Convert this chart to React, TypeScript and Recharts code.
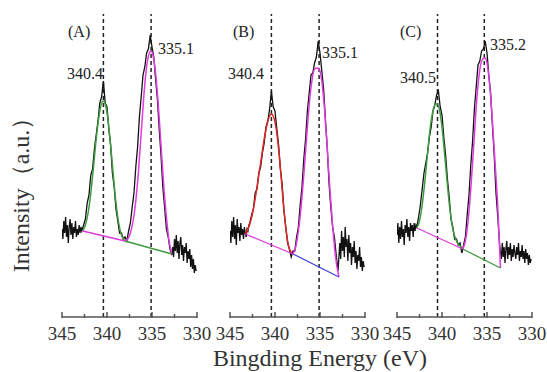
import { LineChart, Line, XAxis, YAxis, ReferenceLine } from 'recharts';

type Pt = [number, number];

const FONT = 'Liberation Serif, DejaVu Serif, Times New Roman, serif';
const FRAME = '#555';
const INK = '#222';
const GREEN = '#3f9a3f';
const MAGENTA = '#e03ae0';
const RED = '#e02525';
const BLUE = '#3848d6';

const TICKS = [345, 342.5, 340, 337.5, 335, 332.5, 330];

// panel (A) – raw spectrum, binding energy (eV) vs counts (a.u.)
const rawA: Pt[] = [
  [345.0, 88], [344.9, 78], [344.8, 96], [344.7, 84], [344.6, 100], [344.5, 80], [344.4, 92], [344.3, 74],
  [344.2, 90], [344.1, 98], [344.0, 82], [343.9, 94], [343.8, 78], [343.7, 90], [343.6, 84], [343.5, 96],
  [343.4, 80], [343.3, 88], [343.2, 82], [343.1, 92], [343.0, 84], [342.9, 90], [342.8, 86],
  [342.6, 92], [342.4, 98], [342.2, 114], [342.0, 122], [341.8, 142], [341.6, 148], [341.4, 168], [341.2, 182],
  [341.0, 196], [340.8, 214], [340.6, 220], [340.4, 236], [340.2, 214], [340.0, 210], [339.8, 188], [339.6, 172],
  [339.4, 144], [339.2, 130], [339.0, 108], [338.8, 96], [338.6, 84], [338.4, 84], [338.2, 78], [338.0, 80],
  [337.8, 76], [337.6, 86], [337.4, 94], [337.2, 110], [337.0, 124], [336.8, 150], [336.6, 170], [336.4, 200],
  [336.2, 220], [336.0, 242], [335.8, 250], [335.6, 264], [335.4, 268], [335.2, 282], [335.0, 270], [334.8, 260],
  [334.6, 238], [334.4, 218], [334.2, 188], [334.0, 162], [333.8, 130], [333.6, 110], [333.4, 88], [333.2, 80],
  [333.0, 68], [332.8, 62],
  [332.7, 70], [332.6, 60], [332.5, 78], [332.4, 66], [332.3, 82], [332.2, 64], [332.1, 76], [332.0, 58],
  [331.9, 74], [331.8, 80], [331.7, 62], [331.6, 72], [331.5, 56], [331.4, 70], [331.3, 64], [331.2, 74],
  [331.1, 54], [331.0, 66], [330.9, 58], [330.8, 68], [330.7, 50], [330.6, 62], [330.5, 48], [330.4, 58],
  [330.3, 44], [330.2, 52], [330.1, 46],
];
const fitA1: Pt[] = [
  [342.7, 86], [342.4, 92], [342.1, 104], [341.8, 124], [341.5, 150], [341.2, 178], [340.9, 200], [340.6, 214],
  [340.4, 216], [340.2, 213], [339.9, 198], [339.6, 172], [339.3, 142], [339.0, 114], [338.7, 94], [338.4, 82], [338.0, 76],
];
const fitA2: Pt[] = [
  [338.0, 76], [337.7, 78], [337.4, 84], [337.1, 96], [336.8, 116], [336.5, 146], [336.2, 184], [335.9, 222],
  [335.6, 250], [335.3, 264], [335.1, 266], [334.9, 262], [334.6, 244], [334.3, 212], [334.0, 172], [333.7, 132],
  [333.4, 100], [333.1, 76], [332.8, 63],
];
const baseA1: Pt[] = [[342.7, 86], [338.0, 76]];
const baseA2: Pt[] = [[338.0, 76], [332.8, 63]];

// panel (B)
const rawB: Pt[] = [
  [345.0, 86], [344.9, 74], [344.8, 96], [344.7, 80], [344.6, 100], [344.5, 78], [344.4, 92], [344.3, 72],
  [344.2, 98], [344.1, 84], [344.0, 90], [343.9, 76], [343.8, 94], [343.7, 82], [343.6, 88], [343.5, 78],
  [343.4, 90], [343.3, 84], [343.2, 80], [343.1, 88], [343.0, 86], [342.9, 92],
  [342.8, 94], [342.6, 102], [342.4, 108], [342.2, 124], [342.0, 128], [341.8, 144], [341.6, 150], [341.4, 164],
  [341.2, 174], [341.0, 190], [340.8, 196], [340.6, 208], [340.4, 226], [340.2, 210], [340.0, 206], [339.8, 188],
  [339.6, 172], [339.4, 148], [339.2, 132], [339.0, 106], [338.8, 90], [338.6, 74], [338.4, 68], [338.2, 60],
  [338.0, 66], [337.8, 66], [337.6, 80], [337.4, 90], [337.2, 112], [337.0, 130], [336.8, 158], [336.6, 178],
  [336.4, 206], [336.2, 224], [336.0, 242], [335.8, 244], [335.6, 254], [335.4, 260], [335.2, 276], [335.0, 264],
  [334.8, 246], [334.6, 228], [334.4, 198], [334.2, 170], [334.0, 134], [333.8, 110], [333.6, 90], [333.4, 80],
  [333.2, 62], [333.0, 46],
  [332.9, 60], [332.8, 74], [332.7, 58], [332.6, 86], [332.5, 66], [332.4, 80], [332.3, 60], [332.2, 90],
  [332.1, 70], [332.0, 78], [331.9, 56], [331.8, 82], [331.7, 64], [331.6, 74], [331.5, 52], [331.4, 70],
  [331.3, 60], [331.2, 76], [331.1, 54], [331.0, 66], [330.9, 48], [330.8, 62], [330.7, 56], [330.6, 70],
  [330.5, 50], [330.4, 60], [330.3, 46], [330.2, 56], [330.1, 50],
];
const fitB1: Pt[] = [
  [343.3, 83], [343.0, 88], [342.7, 96], [342.4, 108], [342.1, 124], [341.8, 142], [341.5, 160], [341.2, 178],
  [340.9, 192], [340.6, 201], [340.4, 203], [340.2, 201], [339.9, 190], [339.6, 168], [339.3, 138], [339.0, 106],
  [338.7, 82], [338.4, 68], [338.0, 63],
];
const fitB2: Pt[] = [
  [338.0, 63], [337.7, 70], [337.4, 86], [337.1, 110], [336.8, 142], [336.5, 178], [336.2, 212], [335.9, 236],
  [335.6, 248], [335.3, 249], [335.1, 248], [334.8, 236], [334.5, 208], [334.2, 170], [333.9, 128], [333.6, 92],
  [333.3, 62], [332.9, 40],
];
const baseB1: Pt[] = [[343.3, 83], [338.0, 63]];
const baseB2: Pt[] = [[338.0, 63], [332.9, 40]];

// panel (C)
const rawC: Pt[] = [
  [345.0, 82], [344.9, 94], [344.8, 74], [344.7, 90], [344.6, 78], [344.5, 96], [344.4, 80], [344.3, 88],
  [344.2, 72], [344.1, 92], [344.0, 84], [343.9, 98], [343.8, 80], [343.7, 90], [343.6, 76], [343.5, 94],
  [343.4, 86], [343.3, 92], [343.2, 80], [343.1, 94], [343.0, 86], [342.9, 92],
  [342.8, 90], [342.6, 100], [342.4, 112], [342.2, 128], [342.0, 144], [341.8, 154], [341.6, 164], [341.4, 180],
  [341.2, 190], [341.0, 206], [340.8, 212], [340.6, 222], [340.4, 226], [340.2, 210], [340.0, 202], [339.8, 180],
  [339.6, 162], [339.4, 138], [339.2, 120], [339.0, 98], [338.8, 90], [338.6, 78], [338.4, 78], [338.2, 72],
  [338.0, 74], [337.8, 64], [337.6, 72], [337.4, 80], [337.2, 102], [337.0, 122], [336.8, 152], [336.6, 176],
  [336.4, 208], [336.2, 230], [336.0, 252], [335.8, 256], [335.6, 266], [335.4, 268], [335.2, 276], [335.0, 264],
  [334.8, 242], [334.6, 224], [334.4, 192], [334.2, 162], [334.0, 124], [333.8, 100], [333.6, 72], [333.4, 58],
  [333.3, 74], [333.2, 60], [333.1, 70], [333.0, 54], [332.9, 68], [332.8, 76], [332.7, 58], [332.6, 70],
  [332.5, 62], [332.4, 74], [332.3, 56], [332.2, 68], [332.1, 60], [332.0, 72], [331.9, 64], [331.8, 58],
  [331.7, 70], [331.6, 62], [331.5, 74], [331.4, 56], [331.3, 66], [331.2, 60], [331.1, 72], [331.0, 58],
  [330.9, 66], [330.8, 54], [330.7, 68], [330.6, 58], [330.5, 64], [330.4, 52], [330.3, 62], [330.2, 54], [330.1, 58],
];
const fitC1: Pt[] = [
  [342.8, 89], [342.5, 96], [342.2, 112], [341.9, 136], [341.6, 164], [341.3, 190], [341.0, 206], [340.7, 213],
  [340.5, 213], [340.3, 208], [340.0, 190], [339.7, 162], [339.4, 132], [339.1, 106], [338.8, 88], [338.4, 76],
  [338.0, 71], [337.7, 68],
];
const fitC2: Pt[] = [
  [337.7, 68], [337.4, 76], [337.1, 96], [336.8, 128], [336.5, 168], [336.2, 210], [335.9, 240], [335.6, 256],
  [335.3, 259], [335.2, 259], [335.0, 254], [334.7, 232], [334.4, 196], [334.1, 154], [333.8, 110], [333.5, 49],
];
const baseC1: Pt[] = [[342.8, 89], [337.7, 68]];
const baseC2: Pt[] = [[337.7, 68], [333.5, 49]];

const rows = (pts: Pt[]) => pts.map(([e, v]) => ({ e, v }));

// eslint-disable-next-line @typescript-eslint/no-explicit-any
function EnergyTick({ x, y, payload }: any) {
  const major = payload.value % 5 === 0;
  return (
    <g>
      <line x1={x} x2={x} y1={y + 1} y2={y - (major ? 5 : 3)} stroke={FRAME} strokeWidth={1.5} />
      {major && (
        <text x={x} y={y + 23} textAnchor="middle" fontSize={19} fill="#333" style={{ fontFamily: FONT }}>
          {payload.value}
        </text>
      )}
    </g>
  );
}

type Series = { pts: Pt[]; color: string; width: number; smooth?: boolean };

const PAD = 24;

function Panel({ left, series, peaks }: { left: number; series: Series[]; peaks: number[] }) {
  const axisStyle = { stroke: FRAME, strokeWidth: 1.5 };
  return (
    <div style={{ position: 'absolute', left: left - PAD, top: 0 }}>
      <LineChart width={135 + PAD * 2} height={350} margin={{ top: 14, right: PAD, bottom: 0, left: PAD }}>
        <XAxis
          xAxisId="b" type="number" dataKey="e" domain={[330, 345]} reversed allowDataOverflow
          ticks={TICKS} interval={0} height={33} tickLine={false} tickSize={0} tickMargin={0}
          axisLine={axisStyle} tick={(p) => <EnergyTick {...p} />}
        />
        <XAxis
          xAxisId="t" orientation="top" type="number" domain={[330, 345]} reversed
          height={0} tick={false} tickLine={false} axisLine={axisStyle}
        />
        <YAxis yAxisId="l" domain={[0, 303]} width={0} tick={false} tickLine={false} axisLine={axisStyle} />
        <YAxis yAxisId="r" orientation="right" domain={[0, 303]} width={0} tick={false} tickLine={false} axisLine={axisStyle} />
        {peaks.map(p => (
          <ReferenceLine key={p} xAxisId="b" yAxisId="l" x={p} stroke={INK} strokeWidth={1.5} strokeDasharray="4 3" />
        ))}
        {series.map((s, i) => (
          <Line
            key={i}
            xAxisId="b"
            yAxisId="l"
            data={rows(s.pts)}
            dataKey="v"
            type={s.smooth ? 'monotone' : 'linear'}
            stroke={s.color}
            strokeWidth={s.width}
            dot={false}
            activeDot={false}
            isAnimationActive={false}
          />
        ))}
      </LineChart>
    </div>
  );
}

const note = (text: string, left: number, top: number) => (
  <div style={{ position: 'absolute', left, top, fontSize: 16, lineHeight: '16px', color: INK, whiteSpace: 'nowrap' }}>
    {text}
  </div>
);

export default function App() {
  return (
    <div style={{ position: 'absolute', left: 0, top: 0, width: 547, height: 372, background: '#fff', fontFamily: FONT, overflow: 'hidden' }}>
      <Panel
        left={62}
        peaks={[340.4, 335.1]}
        series={[
          { pts: rawA, color: '#111', width: 1.3 },
          { pts: fitA1, color: GREEN, width: 1.5, smooth: true },
          { pts: fitA2, color: MAGENTA, width: 1.5, smooth: true },
          { pts: baseA1, color: MAGENTA, width: 1.3 },
          { pts: baseA2, color: GREEN, width: 1.3 },
        ]}
      />
      <Panel
        left={230}
        peaks={[340.4, 335.1]}
        series={[
          { pts: rawB, color: '#111', width: 1.3 },
          { pts: fitB1, color: RED, width: 1.5, smooth: true },
          { pts: fitB2, color: MAGENTA, width: 1.5, smooth: true },
          { pts: baseB1, color: MAGENTA, width: 1.3 },
          { pts: baseB2, color: BLUE, width: 1.3 },
        ]}
      />
      <Panel
        left={397}
        peaks={[340.5, 335.3]}
        series={[
          { pts: rawC, color: '#111', width: 1.3 },
          { pts: fitC1, color: GREEN, width: 1.5, smooth: true },
          { pts: fitC2, color: MAGENTA, width: 1.5, smooth: true },
          { pts: baseC1, color: MAGENTA, width: 1.3 },
          { pts: baseC2, color: GREEN, width: 1.3 },
        ]}
      />

      {note('(A)', 68, 24)}
      {note('340.4', 67, 66)}
      {note('335.1', 158, 41)}
      {note('(B)', 233, 24)}
      {note('340.4', 228, 66)}
      {note('335.1', 322, 45)}
      {note('(C)', 400, 24)}
      {note('340.5', 400, 70)}
      {note('335.2', 490, 37)}

      <div
        style={{
          position: 'absolute', left: 21 - 110, top: 189 - 13, width: 220, height: 26, lineHeight: '26px',
          textAlign: 'center', fontSize: 24, color: '#333', transform: 'rotate(-90deg)', whiteSpace: 'nowrap',
        }}
      >
        Intensity（a.u.）
      </div>
      <div style={{ position: 'absolute', left: 120, width: 400, top: 345, textAlign: 'center', fontSize: 24, lineHeight: '26px', color: '#333' }}>
        Bingding Energy (eV)
      </div>
    </div>
  );
}
